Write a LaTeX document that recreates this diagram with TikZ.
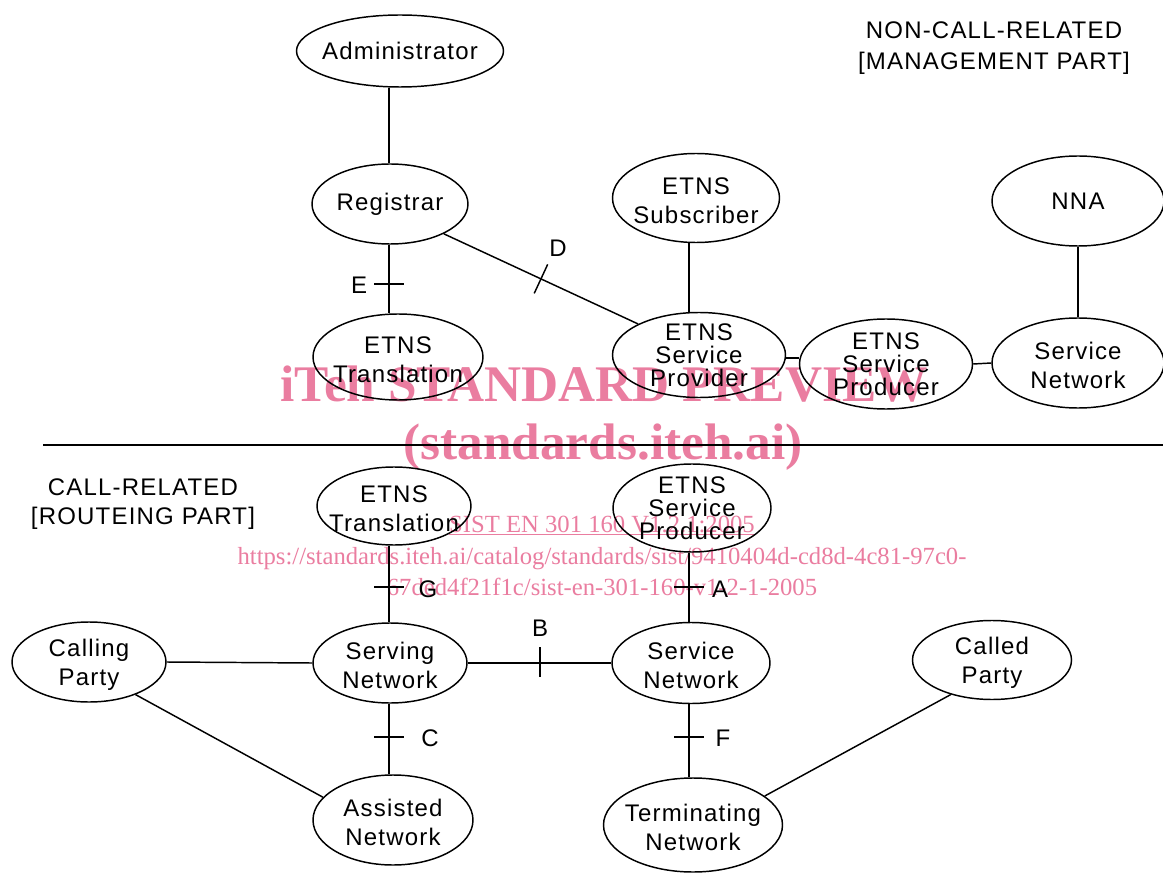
\documentclass[tikz,border=0pt]{standalone}
\usepackage{fontspec}
\setmainfont{Liberation Sans}
\newfontfamily\lab[LetterSpace=5]{Liberation Sans}
\newfontfamily\wm{Liberation Serif}
\usetikzlibrary{shapes.geometric,calc}
\definecolor{wmpink}{RGB}{234,125,160}
\begin{document}
\begin{tikzpicture}[x=0.75pt,y=-0.75pt,
  ell/.style={ellipse,draw,line width=1.1pt,inner sep=0pt},
  sz/.style 2 args={minimum width=#1*0.75pt,minimum height=#2*0.75pt},
  one/.style={align=center,inner sep=0pt,font=\lab\fontsize{18}{21.8}\selectfont},
  two/.style={one,yshift=-2pt},
  three/.style={align=center,inner sep=0pt,font=\lab\fontsize{18}{17.3}\selectfont},
  conn/.style={line width=1.1pt},
  lbl/.style={inner sep=0pt,font=\lab\fontsize{18}{21}\selectfont},
  wmbig/.style={text=wmpink,anchor=base,inner sep=0pt,font=\wm\bfseries\fontsize{38.5}{40}\selectfont},
  wmsmall/.style={text=wmpink,anchor=base,inner sep=0pt,font=\wm\fontsize{18.5}{20}\selectfont}]
\useasboundingbox (0,0) rectangle (1163,873);

% watermark
\node[wmbig] (w1) at (604,401) {iTeh STANDARD PREVIEW};
\node[wmbig] (w2) at (603,459) {(standards.iteh.ai)};
\node[wmsmall] (w3) at (602,532) {\underline{SIST EN 301 160 V1.2.1:2005}};
\node[wmsmall] (w4) at (602,564) {https://standards.iteh.ai/catalog/standards/sist/9410404d-cd8d-4c81-97c0-};
\node[wmsmall] (w5) at (602,595) {67ded4f21f1c/sist-en-301-160-v1-2-1-2005};

% section captions
\node[one] (top) at (994,48) {NON-CALL-RELATED\\[1pt][MANAGEMENT PART]};
\node[one] (bot) at (143,504) {CALL-RELATED\\[0pt][ROUTEING PART]};

% upper part
\node[ell,sz={207}{72},label={[one]center:Administrator}] (adm) at (400,51) {};
\node[ell,sz={156}{80},label={[one]center:Registrar}] (reg) at (390,204) {};
\node[ell,sz={170}{86},label={[two]center:ETNS\\Translation}] (ttop) at (398,357) {};
\node[ell,sz={167}{89},label={[two]center:ETNS\\Subscriber}] (sub) at (696,198) {};
\node[ell,sz={172}{90},label={[one]center:NNA}] (nna) at (1078,201) {};
\node[ell,sz={173}{85},label={[three]center:ETNS\\Service\\Provider}] (prov) at (699,355) {};
\node[ell,sz={173}{90},label={[three]center:ETNS\\Service\\Producer}] (prodt) at (886,364) {};
\node[ell,sz={172}{90},label={[two]center:Service\\Network}] (snt) at (1078,363) {};

% lower part
\node[ell,sz={154}{78},label={[two]center:ETNS\\Translation}] (tbot) at (394,506) {};
\node[ell,sz={158}{88},label={[three]center:ETNS\\Service\\Producer}] (prodb) at (692,508) {};
\node[ell,sz={154}{80},label={[two]center:Calling\\Party}] (calling) at (89,662) {};
\node[ell,sz={154}{80},label={[two]center:Serving\\Network}] (serving) at (390,663) {};
\node[ell,sz={158}{81},label={[two]center:Service\\Network}] (snb) at (691,663) {};
\node[ell,sz={159}{79},label={[two]center:Called\\Party}] (called) at (992,660) {};
\node[ell,sz={160}{90},label={[two]center:Assisted\\Network}] (assisted) at (393,820) {};
\node[ell,sz={179}{94},label={[two]center:Terminating\\Network}] (term) at (693,825) {};

\coordinate (xL) at (389,0);
\coordinate (xR) at (689,0);
\coordinate (yP) at (0,358);

% connectors upper
\draw[conn] (adm.south -| xL) -- (reg.north -| xL);
\draw[conn] (reg.south -| xL) -- (ttop.north -| xL);
\draw[conn] (reg.-29) -- coordinate[pos=0.5] (dm) (prov.153);
\draw[conn] (sub.south -| xR) -- (prov.north -| xR);
\draw[conn] (prov.east |- yP) -- (prodt.west |- yP);
\draw[conn] (prodt.east) -- (snt.west);
\draw[conn] (nna.south) -- (snt.north);
\draw[conn] (43,445) -- (1163,445);

% connectors lower
\draw[conn] (tbot.south -| xL) -- (serving.north -| xL);
\draw[conn] (prodb.south -| xR) -- (snb.north -| xR);
\draw[conn] (calling.east) -- (serving.west);
\draw[conn] (serving.east) -- (snb.west);
\draw[conn] (serving.south -| xL) -- (assisted.north -| xL);
\draw[conn] (calling.-35) -- (assisted.162);
\draw[conn] (snb.south -| xR) -- (term.north -| xR);
\draw[conn] (term.22) -- (called.220);

% interface ticks
\draw[conn] ($(dm)!12pt!90:(prov.153)$) -- ($(dm)!12pt!-90:(prov.153)$);
\draw[conn] (374,284) -- (404,284);
\draw[conn] (374,587) -- (404,587);
\draw[conn] (674,587) -- (704,587);
\draw[conn] (540,647) -- (540,677);
\draw[conn] (374,737) -- (404,737);
\draw[conn] (674,737) -- (704,737);

% interface labels
\node[lbl] (lE) at (359,285) {E};
\node[lbl] (lD) at (558,248) {D};
\node[lbl] (lG) at (428,589) {G};
\node[lbl] (lA) at (720,589) {A};
\node[lbl] (lB) at (540,628) {B};
\node[lbl] (lC) at (430,738) {C};
\node[lbl] (lF) at (723,738) {F};
\end{tikzpicture}
\end{document}
